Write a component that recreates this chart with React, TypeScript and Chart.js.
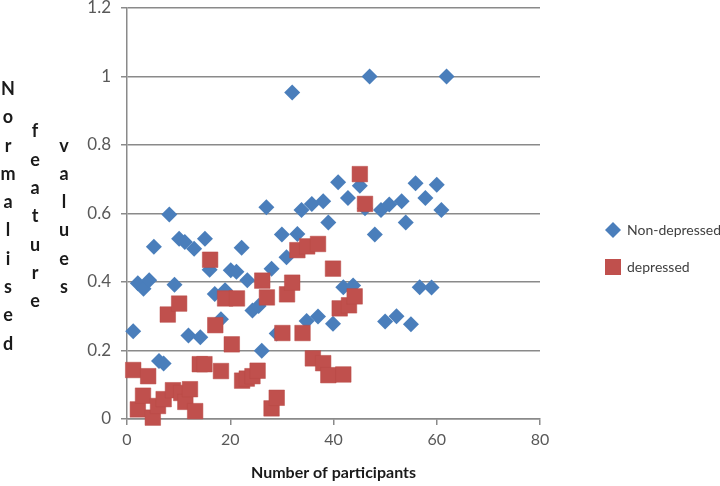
import React, { useEffect, useRef } from "react";
import Chart from "chart.js/auto";

// Values
const seriesNames = ["Non-depressed", "depressed"];

const nonDepressedX = [1.2, 2.1, 3.2, 4.3, 5.2, 6.2, 7.1, 8.2, 9.2, 10.1, 11.2, 11.9, 13.0, 14.2, 15.1, 16.0, 17.0, 18.2, 19.0, 20.1, 21.2, 22.2, 23.3, 24.3, 25.5, 26.1, 27.0, 28.0, 29.0, 30.0, 30.9, 32.0, 33.0, 33.8, 34.8, 35.8, 37.0, 38.0, 39.0, 39.9, 40.9, 41.9, 42.8, 43.8, 45.1, 46.1, 47.0, 48.0, 49.2, 50.0, 50.8, 52.2, 53.2, 54.0, 55.0, 55.9, 56.7, 57.8, 59.0, 60.0, 60.9, 61.9];
const nonDepressedY = [0.256, 0.396, 0.38, 0.405, 0.503, 0.169, 0.162, 0.597, 0.392, 0.526, 0.517, 0.244, 0.497, 0.239, 0.526, 0.436, 0.365, 0.291, 0.376, 0.434, 0.43, 0.5, 0.405, 0.317, 0.33, 0.199, 0.618, 0.439, 0.25, 0.539, 0.472, 0.953, 0.54, 0.61, 0.286, 0.628, 0.299, 0.636, 0.574, 0.278, 0.691, 0.385, 0.645, 0.39, 0.681, 0.615, 1.0, 0.539, 0.61, 0.285, 0.626, 0.3, 0.636, 0.574, 0.277, 0.688, 0.385, 0.645, 0.384, 0.684, 0.61, 1.0];

const depressedX = [1.2, 2.1, 3.1, 4.1, 5.0, 6.0, 7.1, 7.9, 8.9, 10.1, 10.5, 11.3, 12.2, 13.2, 14.1, 15.0, 16.1, 17.1, 18.2, 19.0, 20.3, 21.3, 22.3, 23.2, 24.3, 25.3, 26.2, 27.1, 28.0, 29.0, 30.1, 31.0, 32.0, 33.0, 34.0, 34.9, 36.0, 37.0, 38.0, 39.0, 39.9, 41.2, 41.9, 43.0, 44.1, 45.1, 46.1];
const depressedY = [0.143, 0.028, 0.068, 0.125, 0.004, 0.038, 0.058, 0.305, 0.084, 0.337, 0.076, 0.05, 0.087, 0.023, 0.16, 0.16, 0.465, 0.274, 0.14, 0.352, 0.218, 0.352, 0.112, 0.118, 0.125, 0.141, 0.404, 0.355, 0.031, 0.062, 0.251, 0.364, 0.398, 0.493, 0.251, 0.504, 0.177, 0.511, 0.163, 0.128, 0.439, 0.323, 0.13, 0.332, 0.358, 0.715, 0.628];

const xTicks = [0, 20, 40, 60, 80];
const yTicks = [0, 0.2, 0.4, 0.6, 0.8, 1, 1.2];
const yTickLabels = ["0", "0.2", "0.4", "0.6", "0.8", "1", "1.2"];

const xTitle = "Number of participants";
const yTitleWords = ["Normalised", "feature", "values"];

const BLUE = "#4a7ebb";
const RED = "#c0504d";
const GRID = "#8a8a8a";

// y title is written as three upright columns of letters, like the original
const stackedTitle = {
  id: "stackedTitle",
  afterDraw(chart: any) {
    const { ctx, chartArea } = chart;
    const cols = [8, 35, 64];
    const step = 28.3;
    const mid = (chartArea.top + chartArea.bottom) / 2 + 3;
    ctx.save();
    ctx.font = "bold 18px Lato";
    ctx.fillStyle = "#1a1a1a";
    ctx.textAlign = "center";
    ctx.textBaseline = "middle";
    yTitleWords.forEach((word, i) => {
      const letters = word.split("");
      const start = mid - ((letters.length - 1) * step) / 2;
      letters.forEach((ch, j) => ctx.fillText(ch, cols[i], start + j * step));
    });
    ctx.restore();
  },
};

// legend on the right with diamond / square markers
const sideLegend = {
  id: "sideLegend",
  afterDraw(chart: any) {
    const ctx = chart.ctx;
    const mx = 613;
    const rows = [230, 267];
    ctx.save();
    ctx.font = "14px Lato";
    ctx.textBaseline = "middle";
    ctx.textAlign = "left";
    // diamond
    ctx.fillStyle = BLUE;
    ctx.beginPath();
    ctx.moveTo(mx, rows[0] - 8);
    ctx.lineTo(mx + 8, rows[0]);
    ctx.lineTo(mx, rows[0] + 8);
    ctx.lineTo(mx - 8, rows[0]);
    ctx.closePath();
    ctx.fill();
    // square
    ctx.fillStyle = RED;
    ctx.fillRect(mx - 8, rows[1] - 8, 16, 16);
    ctx.fillStyle = "#404040";
    ctx.fillText(seriesNames[0], mx + 14, rows[0]);
    ctx.fillText(seriesNames[1], mx + 14, rows[1]);
    ctx.restore();
  },
};

const ScatterChart: React.FC = () => {
  const canvasRef = useRef<HTMLCanvasElement | null>(null);
  const chartInstance = useRef<Chart | null>(null);

  useEffect(() => {
    if (!canvasRef.current) return;
    if (chartInstance.current) chartInstance.current.destroy();

    chartInstance.current = new Chart(canvasRef.current, {
      type: "scatter",
      data: {
        datasets: [
          {
            label: seriesNames[0],
            data: nonDepressedX.map((x, i) => ({ x, y: nonDepressedY[i] })),
            pointStyle: "rectRot",
            pointRadius: 8,
            pointHoverRadius: 8,
            backgroundColor: BLUE,
            borderColor: BLUE,
            borderWidth: 0,
            order: 1,
            clip: false,
          },
          {
            label: seriesNames[1],
            data: depressedX.map((x, i) => ({ x, y: depressedY[i] })),
            pointStyle: "rect",
            pointRadius: 11,
            pointHoverRadius: 11,
            backgroundColor: RED,
            borderColor: "#b84a47",
            borderWidth: 0.5,
            order: 0,
            clip: false,
          },
        ],
      },
      options: {
        animation: false,
        responsive: true,
        maintainAspectRatio: false,
        layout: { autoPadding: false, padding: { left: 0, right: 180, top: 0, bottom: 0 } },
        plugins: {
          legend: { display: false },
          tooltip: { enabled: false },
        },
        scales: {
          x: {
            type: "linear",
            min: 0,
            max: 80,
            afterBuildTicks: (scale: any) => {
              scale.ticks = xTicks.map((v) => ({ value: v }));
            },
            afterFit: (scale: any) => {
              scale.height = 67;
            },
            ticks: {
              padding: 5,
              color: "#595959",
              font: { family: "Lato", size: 16 },
            },
            grid: {
              drawOnChartArea: false,
              drawTicks: true,
              tickLength: 6,
              color: GRID,
              lineWidth: 1.5,
            },
            border: { color: GRID, width: 1.5 },
            title: {
              display: true,
              text: xTitle,
              color: "#1a1a1a",
              font: { family: "Lato", size: 16, weight: "bold" },
              padding: { top: 4, bottom: 4 },
            },
          },
          y: {
            type: "linear",
            min: 0,
            max: 1.2,
            afterBuildTicks: (scale: any) => {
              scale.ticks = yTicks.map((v) => ({ value: v }));
            },
            afterFit: (scale: any) => {
              scale.width = 127;
              scale.paddingTop = 8;
            },
            ticks: {
              padding: 10,
              color: "#595959",
              font: { family: "Lato", size: 17 },
              callback: (_v: any, i: number) => yTickLabels[i],
            },
            grid: {
              drawTicks: true,
              tickLength: 6,
              color: GRID,
              lineWidth: 1.5,
            },
            border: { color: GRID, width: 1.5 },
          },
        },
      },
      plugins: [stackedTitle, sideLegend],
    });

    return () => {
      if (chartInstance.current) {
        chartInstance.current.destroy();
        chartInstance.current = null;
      }
    };
  }, []);

  return (
    <div style={{ position: "absolute", left: 0, top: 0, width: 720, height: 486, background: "#fff" }}>
      <canvas ref={canvasRef} />
    </div>
  );
};

export default function App() {
  return <ScatterChart />;
}
